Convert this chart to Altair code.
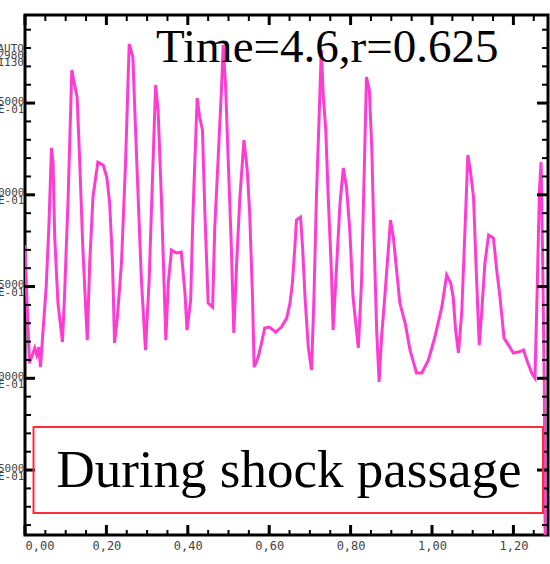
import altair as alt
import pandas as pd

# ---- data ----
x_vals = [
    0.000, 0.005, 0.011, 0.018, 0.024, 0.029, 0.034, 0.038, 0.044, 0.052,
    0.059, 0.065, 0.069, 0.073, 0.081, 0.092, 0.097, 0.106, 0.115, 0.122,
    0.128, 0.134, 0.142, 0.153, 0.159, 0.167, 0.179, 0.192, 0.201, 0.208,
    0.215, 0.220, 0.227, 0.237, 0.247, 0.256, 0.265, 0.271, 0.278, 0.286,
    0.296, 0.305, 0.315, 0.321, 0.327, 0.335, 0.346, 0.352, 0.360, 0.372,
    0.384, 0.393, 0.398, 0.407, 0.413, 0.423, 0.429, 0.436, 0.442, 0.450,
    0.461, 0.466, 0.474, 0.483, 0.487, 0.493, 0.499, 0.507, 0.513, 0.520,
    0.528, 0.538, 0.546, 0.552, 0.559, 0.563, 0.573, 0.581, 0.589, 0.600,
    0.616, 0.630, 0.643, 0.651, 0.657, 0.663, 0.667, 0.677, 0.682, 0.688,
    0.696, 0.704, 0.710, 0.716, 0.723, 0.728, 0.733, 0.739, 0.745, 0.753,
    0.757, 0.766, 0.774, 0.782, 0.790, 0.798, 0.806, 0.819, 0.827, 0.833,
    0.839, 0.846, 0.852, 0.857, 0.864, 0.870, 0.876, 0.884, 0.898, 0.905,
    0.913, 0.921, 0.934, 0.946, 0.962, 0.975, 0.991, 1.007, 1.024, 1.036,
    1.046, 1.052, 1.058, 1.065, 1.073, 1.081, 1.088, 1.094, 1.102, 1.108,
    1.116, 1.122, 1.130, 1.139, 1.151, 1.159, 1.167, 1.177, 1.188, 1.200,
    1.212, 1.225, 1.233, 1.245, 1.253, 1.258, 1.264, 1.268, 1.272, 1.276,
    1.278,
]
y_vals = [
    1.726, 1.410, 1.083, 1.127, 1.165, 1.127, 1.170, 1.061, 1.247, 1.497,
    1.846, 2.255, 2.173, 1.770, 1.410, 1.198, 1.443, 1.988, 2.680, 2.598,
    2.533, 2.206, 1.715, 1.208, 1.628, 1.988, 2.178, 2.162, 2.097, 1.955,
    1.628, 1.192, 1.334, 1.628, 2.173, 2.822, 2.751, 2.391, 1.988, 1.535,
    1.154, 1.535, 2.206, 2.598, 2.462, 1.988, 1.208, 1.519, 1.699, 1.683,
    1.688, 1.465, 1.263, 1.426, 1.917, 2.527, 2.424, 2.353, 1.901, 1.410,
    1.388, 1.808, 2.173, 2.587, 2.816, 2.587, 2.206, 1.715, 1.247, 1.628,
    1.988, 2.298, 2.135, 1.901, 1.443, 1.061, 1.116, 1.192, 1.274, 1.279,
    1.252, 1.279, 1.328, 1.410, 1.519, 1.715, 1.862, 1.879, 1.715, 1.443,
    1.170, 1.045, 1.443, 1.988, 2.446, 2.789, 2.533, 2.353, 1.988, 1.574,
    1.263, 1.628, 1.955, 2.146, 2.042, 1.808, 1.443, 1.165, 1.535, 2.080,
    2.642, 2.571, 2.260, 1.808, 1.263, 0.980, 1.225, 1.443, 1.862, 1.770,
    1.590, 1.410, 1.301, 1.154, 1.029, 1.029, 1.099, 1.225, 1.388, 1.563,
    1.519, 1.443, 1.263, 1.138, 1.356, 1.808, 2.217, 2.135, 1.988, 1.628,
    1.181, 1.356, 1.628, 1.781, 1.764, 1.590, 1.443, 1.219, 1.181, 1.138,
    1.143, 1.154, 1.099, 1.029, 1.001, 1.443, 2.026, 2.178, 1.628, 0.936,
    0.100,
]

x_major = [0.0, 0.2, 0.4, 0.6, 0.8, 1.0, 1.2]
x_minor = [0.05, 0.10, 0.15, 0.25, 0.30, 0.35, 0.45, 0.50, 0.55, 0.65, 0.70,
           0.75, 0.85, 0.90, 0.95, 1.05, 1.10, 1.15, 1.25]
y_major = [0.5, 1.0, 1.5, 2.0, 2.5]
y_minor = [0.2, 0.3, 0.4, 0.6, 0.7, 0.8, 0.9, 1.1, 1.2, 1.3, 1.4, 1.6, 1.7,
           1.8, 1.9, 2.1, 2.2, 2.3, 2.4, 2.6, 2.7, 2.8, 2.9]

title_text = "Time=4.6,r=0.625"
box_text = "During shock passage"
corner_text = ["AUTO", "0.2980", "0.1130"]

# ---- layout / style ----
W, H = 523, 520
X_DOMAIN = [0, 1.285]
Y_DOMAIN = [0.146, 2.98]
LINE_COLOR = "#ff3cd2"
TICK_COLOR = "black"

xs = alt.Scale(domain=X_DOMAIN, nice=False, zero=False)
ys = alt.Scale(domain=Y_DOMAIN, nice=False, zero=False)

df = pd.DataFrame({"x": x_vals, "y": y_vals})
one = pd.DataFrame({"k": [0]})

x_axis = alt.Axis(
    values=x_major, title=None, domain=False, ticks=False, grid=False,
    tickSize=0, labelPadding=5,
    labelExpr="replace(format(datum.value, '.2f'), '.', ',')",
    labelFont="DejaVu Sans Mono", labelFontSize=12, labelColor="#444",
)
y_axis = alt.Axis(
    values=y_major, title=None, domain=False, ticks=False, grid=False,
    tickSize=0, labelPadding=1,
    labelExpr="[format(datum.value, '.4f'), 'E-01\u00a0']",
    labelFont="DejaVu Sans Mono", labelFontSize=11, labelColor="#444",
    labelLineHeight=8, labelBaseline="middle", labelOffset=-2,
)

line = alt.Chart(df).mark_line(
    color=LINE_COLOR, strokeWidth=3, clip=True
).encode(
    x=alt.X("x:Q", scale=xs, axis=x_axis),
    y=alt.Y("y:Q", scale=ys, axis=y_axis),
)


def yticks(vals, length, width, side):
    d = pd.DataFrame({"y": vals})
    if side == "left":
        xa, xb = alt.value(0), alt.value(length)
    else:
        xa, xb = alt.value(W - length), alt.value(W)
    return alt.Chart(d).mark_rule(color=TICK_COLOR, strokeWidth=width).encode(
        y=alt.Y("y:Q", scale=ys, axis=y_axis), x=xa, x2=xb
    )


def xticks(vals, length, width, side):
    d = pd.DataFrame({"x": vals})
    if side == "bottom":
        ya, yb = alt.value(H - length), alt.value(H)
    else:
        ya, yb = alt.value(0), alt.value(length)
    return alt.Chart(d).mark_rule(color=TICK_COLOR, strokeWidth=width).encode(
        x=alt.X("x:Q", scale=xs, axis=x_axis), y=ya, y2=yb
    )


tick_layers = [
    yticks(y_major, 10, 3, "left"), yticks(y_minor, 6, 2, "left"),
    yticks(y_major, 11, 3, "right"), yticks(y_minor, 6, 2, "right"),
    xticks(x_major, 10, 3, "bottom"), xticks(x_minor, 5, 2, "bottom"),
    xticks(x_major, 10, 3, "top"), xticks(x_minor, 6, 2, "top"),
]

corner = alt.Chart(one).mark_text(
    text=corner_text, align="right", baseline="top", font="DejaVu Sans Mono",
    fontSize=11, lineHeight=7, color="#444"
).encode(x=alt.value(-1), y=alt.value(28))

title = alt.Chart(one).mark_text(
    text=title_text, align="left", baseline="alphabetic",
    font="Liberation Serif", fontSize=47, color="black"
).encode(x=alt.value(131), y=alt.value(47))

box = alt.Chart(one).mark_rect(
    fillOpacity=0, stroke="#ff2a3a", strokeWidth=2
).encode(x=alt.value(8.5), x2=alt.value(518), y=alt.value(412), y2=alt.value(498))

box_label = alt.Chart(one).mark_text(
    text=box_text, align="center", baseline="alphabetic",
    font="Liberation Serif", fontSize=53, color="black"
).encode(x=alt.value(264), y=alt.value(472))

chart = alt.layer(
    line, *tick_layers, box, box_label, title, corner
).properties(
    width=W, height=H,
    autosize=alt.AutoSizeParams(type="none"),
    padding={"left": 25, "top": 15, "right": 2, "bottom": 29},
    background="white",
).configure_view(stroke="black", strokeWidth=3)

chart.save("out.html", embed_options={"renderer": "svg", "actions": False})
